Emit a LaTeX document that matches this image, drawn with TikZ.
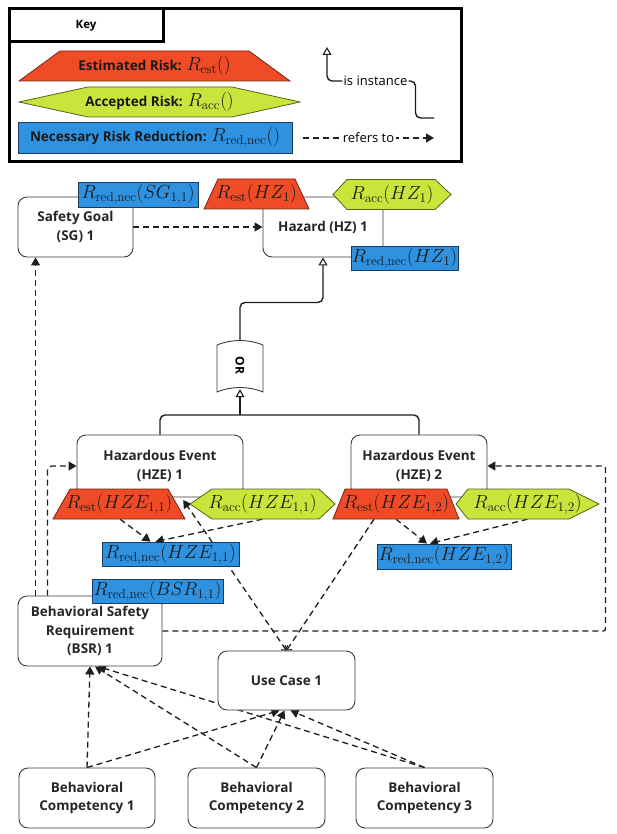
\RequirePackage{fix-cm}
\documentclass[tikz,border=0pt]{standalone}
\usepackage[no-math]{fontspec}
\setmainfont{Open Sans}
\usepackage{graphicx}
\usetikzlibrary{arrows.meta,calc}
\definecolor{estfill}{HTML}{EF4B26}
\definecolor{estdraw}{HTML}{7A2410}
\definecolor{accfill}{HTML}{C9E43A}
\definecolor{accdraw}{HTML}{56641A}
\definecolor{necfill}{HTML}{2E92E0}
\definecolor{necdraw}{HTML}{1B3A5C}
\definecolor{boxdraw}{HTML}{3A3A3A}
\definecolor{linec}{HTML}{1E1E1E}
\pgfdeclarelayer{back}
\pgfsetlayers{back,main}
\newcommand\bxfont{\fontsize{13.5}{18.5}\selectfont\bfseries}
\newcommand\mathsz{\fontsize{19}{21}\selectfont}
\newcommand\lblfont{\fontsize{13}{15}\selectfont}
\tikzset{
  box/.style={draw=boxdraw, line width=0.9pt, rounded corners=9pt, fill=white, align=center, inner sep=2pt, font=\bxfont, text=black!85},
  necbox/.style={draw=necdraw, line width=0.8pt, fill=necfill, inner sep=0pt, font=\mathsz, text=black!90},
  risktext/.style={inner sep=0pt, font=\mathsz, text=black!90},
  estsh/.style={fill=estfill, draw=estdraw, line width=0.8pt},
  accsh/.style={fill=accfill, draw=accdraw, line width=0.8pt},
  orsh/.style={fill=white, draw=boxdraw, line width=0.9pt},
  refer/.style={draw=linec, line width=1.3pt, dash pattern=on 6pt off 4pt, -{Triangle[length=8pt,width=9pt]}},
  treeln/.style={draw=linec, line width=1.4pt, rounded corners=5pt},
  inst/.style={treeln, -{Triangle[open,length=8pt,width=9pt,line width=1.1pt]}}
}
\newcommand\esttrap[6]{%
  \filldraw[estsh] (#2-#4,#3+15) -- (#2-#4+#5,#3-15) -- (#2+#4-#5,#3-15) -- (#2+#4,#3+15) -- cycle;
  \node[risktext, minimum width=2*#4, minimum height=30] (#1) at (#2,#3) {#6};}
\newcommand\acchex[7]{%
  \filldraw[accsh] (#2-#4,#3) -- (#2-#4+#5,#3-15) -- (#2+#4-#6,#3-15) -- (#2+#4,#3) -- (#2+#4-#6,#3+15) -- (#2-#4+#5,#3+15) -- cycle;
  \node[risktext, minimum width=2*#4, minimum height=30] (#1) at (#2,#3) {#7};}
\begin{document}
\begin{tikzpicture}[x=1pt,y=-1pt]
\useasboundingbox (0,0) rectangle (616,834);
\begin{pgfonlayer}{back}
\fill[white] (0,0) rectangle (616,834);
\end{pgfonlayer}
% ---------- Key ----------
\draw[line width=3pt] (9,9) rectangle (461,162);
\node[draw, line width=3pt, fill=white, minimum width=154, minimum height=33, inner sep=0pt, font=\fontsize{11.5}{13}\selectfont\bfseries] (key) at (86,25.5) {Key};
\esttrap{kest}{154.5}{66}{135.5}{41}{{\bxfont Estimated Risk: }$R_{\mathrm{est}}()$}
\acchex{kacc}{159.5}{102}{140.5}{69}{68}{{\bxfont Accepted Risk: }$R_{\mathrm{acc}}()$}
\node[necbox, minimum width=274, minimum height=31] (knec) at (155,137.5) {{\bxfont Necessary Risk Reduction: }$R_{\mathrm{red,nec}}()$};
\node[inner sep=1pt, font=\lblfont] (kinst) at (375.5,81) {is instance};
\coordinate (kia) at (327,47);
\coordinate (kib) at (434,118);
\draw[inst] (kinst.west) -| (kia);
\draw[treeln] (kinst.east) -- ++(7,0) |- (kib);
\coordinate (kra) at (303,138);
\coordinate (krb) at (434,138);
\draw[refer] (kra) -- node[fill=white, inner sep=1.5pt, font=\lblfont] (kref) {refers to} (krb);
% ---------- Top ----------
\node[box, minimum width=115, minimum height=60] (sg) at (75.5,227) {Safety Goal\\(SG) 1};
\node[necbox, minimum width=120, minimum height=25] (sgr) at (138,194.5) {$R_{\mathrm{red,nec}}(SG_{1,1})$};
\node[box, minimum width=120, minimum height=60] (hz) at (323,227) {Hazard (HZ) 1};
\esttrap{hzest}{256.5}{194}{52.5}{14}{$R_{\mathrm{est}}(HZ_1)$}
\acchex{hzacc}{392}{194.5}{59}{14}{16}{$R_{\mathrm{acc}}(HZ_1)$}
\node[necbox, minimum width=107, minimum height=24] (hzr) at (404.5,258) {$R_{\mathrm{red,nec}}(HZ_1)$};
% ---------- OR gate ----------
\filldraw[orsh] (217,392) -- (217,345) .. controls (232,339) and (248,339) .. (263,345) -- (263,392) .. controls (248,386) and (232,386) .. (217,392) -- cycle;
\node[minimum width=46, minimum height=47, inner sep=0pt] (or) at (240,365.5) {\rotatebox{-90}{\fontsize{12}{14}\selectfont\bfseries OR}};
\coordinate (orj) at (240,415);
% ---------- Hazardous events ----------
\node[box, minimum width=166, minimum height=62] (hze1) at (160,466) {Hazardous Event\\(HZE) 1};
\esttrap{hze1est}{119}{504}{66}{17}{$R_{\mathrm{est}}(HZE_{1,1})$}
\acchex{hze1acc}{262.5}{504}{72.5}{22}{16}{$R_{\mathrm{acc}}(HZE_{1,1})$}
\node[box, minimum width=136, minimum height=62] (hze2) at (419,466) {Hazardous Event\\(HZE) 2};
\esttrap{hze2est}{396}{504}{63}{12}{$R_{\mathrm{est}}(HZE_{1,2})$}
\acchex{hze2acc}{527.5}{504}{71.5}{12}{30}{$R_{\mathrm{acc}}(HZE_{1,2})$}
\node[necbox, minimum width=137, minimum height=24] (hze1r) at (170.5,554) {$R_{\mathrm{red,nec}}(HZE_{1,1})$};
\node[necbox, minimum width=134, minimum height=25] (hze2r) at (444,556.5) {$R_{\mathrm{red,nec}}(HZE_{1,2})$};
% ---------- Lower ----------
\node[box, minimum width=144, minimum height=70] (bsr) at (90,631) {Behavioral Safety\\Requirement\\(BSR) 1};
\node[necbox, minimum width=131, minimum height=24] (bsrr) at (157.5,591) {$R_{\mathrm{red,nec}}(BSR_{1,1})$};
\node[box, minimum width=137, minimum height=59] (uc) at (286.5,680.5) {Use Case 1};
\node[box, minimum width=136, minimum height=60] (bc1) at (87,798) {Behavioral\\Competency 1};
\node[box, minimum width=137, minimum height=60] (bc2) at (256.5,798) {Behavioral\\Competency 2};
\node[box, minimum width=137, minimum height=60] (bc3) at (424.5,798) {Behavioral\\Competency 3};
% ---------- Connectors ----------
\begin{pgfonlayer}{back}
\draw[inst] (or.north) |- ($(hz.south)+(0,45)$) -- (hz.south);
\draw[treeln] (hze1.north) |- (orj) -| (hze2.north);
\draw[inst] (orj) -- (or.south);
\draw[refer] (sg.east) -- (hz.west);
\draw[refer] ($(bsr.north west)+(18,0)$) -- ($(sg.south west)+(18,0)$);
\draw[refer, rounded corners=4pt] ($(bsr.north west)+(30,0)$) |- (hze1.west);
\draw[refer, rounded corners=2pt] (bsr.east) -| ($(hze2.east)+(118,0)$) -- (hze2.east);
\draw[refer] ($(hze1est.south)+(1,0)$) -- ($(hze1r.north)+(-20,0)$);
\draw[refer] (hze1acc.south) -- ($(hze1r.north)+(-15,0)$);
\draw[refer] (hze2est.south) -- ($(hze2r.north)+(-17,0)$);
\draw[refer] (hze2acc.south) -- ($(hze2r.north)+(-14,0)$);
\draw[refer, {Straight Barb[length=3pt,width=8pt,line width=1.1pt]}-{Triangle[length=8pt,width=9pt]}] (uc.north) -- ($(hze1est.east)+(-2,-4)$);
\draw[refer, -{Straight Barb[length=3pt,width=8pt,line width=1.1pt]}] ($(hze2est.south)+(-22,0)$) -- (uc.north);
\draw[refer] (bc1.north) -- (bsr.south);
\draw[refer] (bc1.north) -- ($(uc.south)+(-7,0)$);
\draw[refer] (bc2.north) -- ($(bsr.south)+(5,0)$);
\draw[refer] (bc2.north) -- ($(uc.south)+(-2,0)$);
\draw[refer] (bc3.north) -- ($(bsr.south)+(8,0)$);
\draw[refer] (bc3.north) -- ($(uc.south)+(4,0)$);
\end{pgfonlayer}
\end{tikzpicture}
\end{document}
